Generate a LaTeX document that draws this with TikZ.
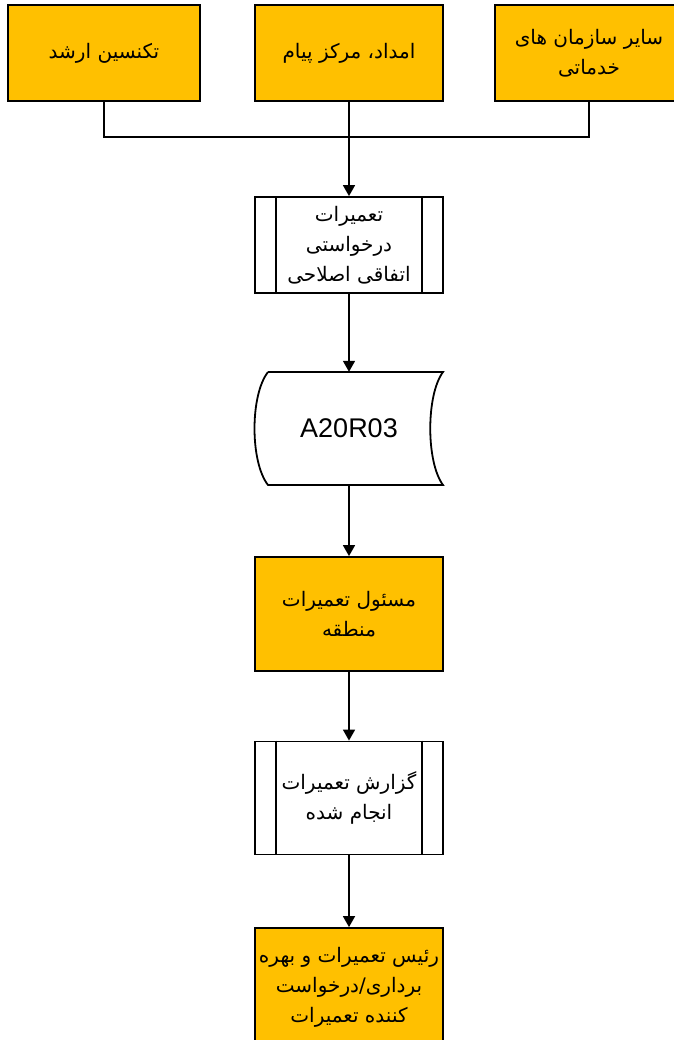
\documentclass[tikz,border=0pt]{standalone}
\usepackage{fontspec}
\setmainfont{Liberation Sans}
\newfontfamily\persianfont[Script=Arabic]{DejaVu Sans}
\TeXXeTstate=1
\usetikzlibrary{arrows.meta}
\definecolor{unitgold}{RGB}{255,192,0}
\newcommand{\fa}[1]{\beginR #1\endR}

\begin{document}
\begin{tikzpicture}[
  x=1pt,y=-1pt,>={Triangle[width=12pt,length=11pt]},
  unit/.style={draw=black,line width=1.8pt,fill=unitgold,minimum width=188pt,minimum height=96pt,inner sep=2pt,align=center,font=\persianfont\fontsize{20}{30}\selectfont},
  procbox/.style={unit,fill=white},
  flow/.style={->,line width=1.6pt},
  link/.style={line width=1.6pt}
]
\useasboundingbox (0,0) rectangle (673,1040);
% units that send the request
\node[unit,minimum width=192pt] (senior) at (104,53) {\fa{تکنسین ارشد}};
\node[unit] (relief) at (349,53) {\fa{امداد، مرکز پیام}};
\node[unit] (others) at (589,53) {\fa{سایر سازمان های}\\\fa{خدماتی}};
\coordinate (merge) at (349,137);
\draw[link] (senior.south) |- (merge) -| (others.south);
% request and form
\node[procbox] (request) at (349,245) {\fa{تعمیرات}\\\fa{درخواستی}\\\fa{اتفاقی اصلاحی}};
\draw[line width=1.8pt] ([xshift=22pt]request.north west) -- ([xshift=22pt]request.south west)
  ([xshift=-22pt]request.north east) -- ([xshift=-22pt]request.south east);
\draw[line width=1.8pt,fill=white] (268,372) -- (443,372) .. controls (426,395) and (426,462) .. (443,485)
  -- (268,485) .. controls (250,462) and (250,395) .. (268,372);
\node[minimum width=188pt,minimum height=113pt,font=\fontsize{27}{32}\selectfont] (form) at (349,428.5) {A20R03};
\node[unit,minimum height=114pt] (zone) at (349,614) {\fa{مسئول تعمیرات}\\\fa{منطقه}};
\node[procbox,minimum height=113pt] (report) at (349,798) {\fa{گزارش تعمیرات}\\\fa{انجام شده}};
\draw[line width=1.8pt] ([xshift=22pt]report.north west) -- ([xshift=22pt]report.south west)
  ([xshift=-22pt]report.north east) -- ([xshift=-22pt]report.south east);
\node[unit,minimum height=118pt] (head) at (349,987) {\fa{رئیس تعمیرات و بهره}\\\fa{برداری/درخواست}\\\fa{کننده تعمیرات}};
\draw[flow] (relief.south) -- (request.north);
\draw[flow] (request) -- (form);
\draw[flow] (form) -- (zone);
\draw[flow] (zone) -- (report);
\draw[flow] (report) -- (head);
\end{tikzpicture}
\end{document}
